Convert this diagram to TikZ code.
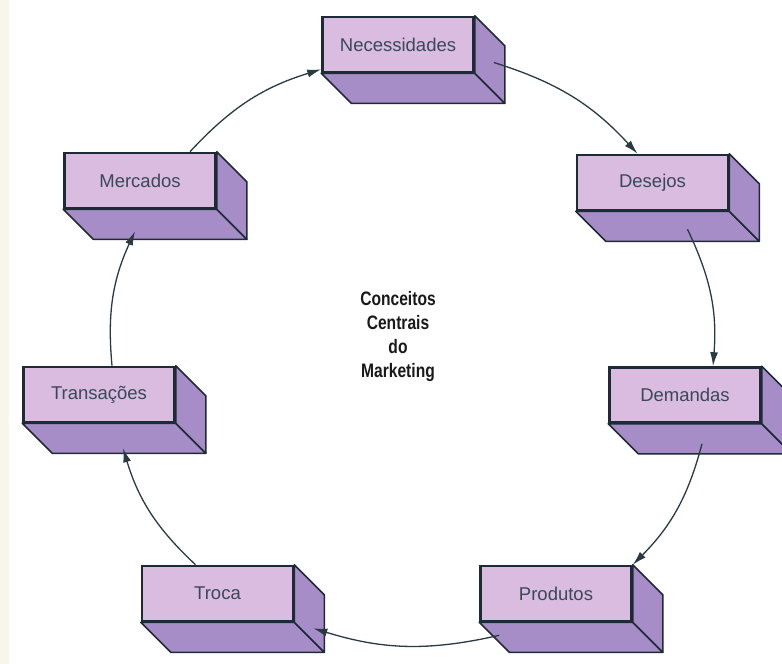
\documentclass[tikz,border=0pt]{standalone}
\usepackage{fontspec}
\setmainfont{Liberation Sans}
\newfontfamily\narrowsans[FakeStretch=0.8]{Liberation Sans}
\usetikzlibrary{arrows.meta,calc}

\definecolor{facefront}{HTML}{D9BCE0}
\definecolor{faceside}{HTML}{A68DC8}
\definecolor{edgeink}{HTML}{1E2A36}
\definecolor{labelink}{HTML}{3A4858}
\definecolor{lineink}{HTML}{2A3A42}
\definecolor{paperband}{HTML}{F8F5EA}

\tikzset{
  boxfront/.style={rectangle, minimum width=151, minimum height=55, inner sep=0pt,
    fill=facefront, draw=edgeink, line width=2.6pt,
    text=labelink, font=\fontsize{18.5}{20}\selectfont},
  boxside/.style={fill=faceside, draw=edgeink, line width=1.6pt, line join=round},
  cycleflow/.style={draw=lineink, line width=1.3pt,
    -{Latex[length=14pt,width=8pt]}, bend left=15},
  centretitle/.style={align=center, font=\narrowsans\fontsize{19.5}{24}\selectfont\bfseries,
    text=black!90}
}

% a box: bottom and right faces behind a labelled front face
\newcommand{\conceptbox}[3]{%
  \node[boxfront] (#1) at #2 {#3};
  \begin{pgfonlayer}{background}
    \fill[boxside] (#1.south west) -- (#1.south east) -- ++(30,30)
      -- ($(#1.south west)+(30,30)$) -- cycle;
    \fill[boxside] (#1.north east) -- ++(30,30) -- ($(#1.south east)+(30,30)$)
      -- (#1.south east) -- cycle;
  \end{pgfonlayer}
}

\pgfdeclarelayer{background}
\pgfdeclarelayer{paper}
\pgfsetlayers{paper,background,main}

\begin{document}
\begin{tikzpicture}[x=1pt,y=-1pt]
  \begin{pgfonlayer}{paper}
    \fill[white] (0,0) rectangle (782,664);
    \fill[paperband] (0,0) rectangle (9,664);
  \end{pgfonlayer}
  \useasboundingbox (0,0) rectangle (782,664);

  \conceptbox{nec}{(398,44.5)}{Necessidades}
  \conceptbox{des}{(652.5,182.5)}{Desejos}
  \conceptbox{mer}{(140,180.5)}{Mercados}
  \conceptbox{dem}{(685,395)}{Demandas}
  \conceptbox{tra}{(99,394.5)}{Transações}
  \conceptbox{tro}{(217.5,593.5)}{Troca}
  \conceptbox{pro}{(556,593.5)}{Produtos}

  \node[centretitle] (title) at (398,336) {Conceitos\\Centrais\\do\\Marketing};

  \draw[cycleflow] ($(mer.north)+(50,0)$) to ($(nec.south west)+(0,-4)$);
  \draw[cycleflow] ($(nec.east)+(19,18)$) to ($(des.north)+(-15,0)$);
  \draw[cycleflow] ($(des.south)+(35,18)$) to ($(dem.north)+(28,0)$);
  \draw[cycleflow] ($(dem.south)+(17,20)$) to (pro.north east);
  \draw[cycleflow] ($(pro.south west)+(20,13)$) to ($(tro.south east)+(19,6)$);
  \draw[cycleflow] ($(tro.north)+(-22,0)$) to ($(tra.south)+(24,25)$);
  \draw[cycleflow] ($(tra.north)+(13,0)$) to ($(mer.south)+(-5,22)$);
\end{tikzpicture}
\end{document}
